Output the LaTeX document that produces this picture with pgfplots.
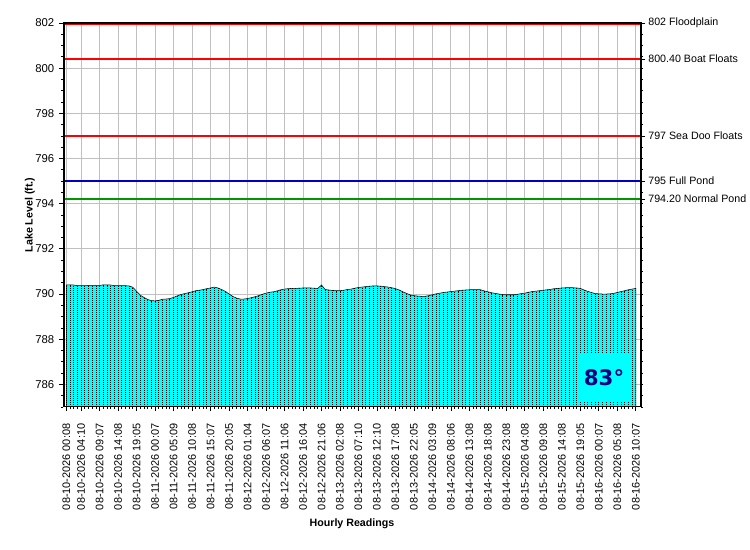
\documentclass[border=0pt]{standalone}
\usepackage{pgfplots}
\pgfplotsset{compat=1.18}
\usepackage{pgfplotstable}
\usepackage{fontspec}
\setmainfont{Liberation Sans}
\newfontfamily\dejavu{DejaVu Sans}
\definecolor{navyc}{RGB}{0,0,128}
\definecolor{navyl}{RGB}{0,0,190}
\definecolor{pondgreen}{RGB}{0,150,0}
\definecolor{gridc}{RGB}{192,192,192}
\definecolor{aqua}{RGB}{0,255,255}
\definecolor{redc}{RGB}{255,0,0}

\pgfplotstableread{
x y
0 790.40
1 790.41
2 790.40
3 790.37
4 790.37
5 790.37
6 790.38
7 790.38
8 790.39
9 790.38
10 790.41
11 790.41
12 790.40
13 790.37
14 790.37
15 790.37
16 790.37
17 790.36
18 790.30
19 790.12
20 789.95
21 789.85
22 789.76
23 789.71
24 789.70
25 789.72
26 789.77
27 789.78
28 789.80
29 789.85
30 789.92
31 789.98
32 790.02
33 790.06
34 790.10
35 790.15
36 790.17
37 790.20
38 790.24
39 790.27
40 790.31
41 790.27
42 790.20
43 790.12
44 790.00
45 789.90
46 789.82
47 789.78
48 789.78
49 789.80
50 789.84
51 789.88
52 789.93
53 789.99
54 790.04
55 790.08
56 790.10
57 790.14
58 790.19
59 790.22
60 790.24
61 790.25
62 790.25
63 790.26
64 790.27
65 790.27
66 790.27
67 790.26
68 790.25
69 790.40
70 790.20
71 790.18
72 790.16
73 790.15
74 790.15
75 790.17
76 790.20
77 790.22
78 790.26
79 790.29
80 790.31
81 790.33
82 790.35
83 790.36
84 790.36
85 790.35
86 790.33
87 790.31
88 790.28
89 790.24
90 790.18
91 790.10
92 790.03
93 789.96
94 789.93
95 789.91
96 789.90
97 789.90
98 789.93
99 789.97
100 790.01
101 790.04
102 790.07
103 790.09
104 790.11
105 790.13
106 790.15
107 790.17
108 790.18
109 790.19
110 790.20
111 790.20
112 790.19
113 790.14
114 790.10
115 790.06
116 790.03
117 790.00
118 789.98
119 789.97
120 789.97
121 789.97
122 789.99
123 790.02
124 790.04
125 790.08
126 790.11
127 790.13
128 790.15
129 790.17
130 790.19
131 790.21
132 790.24
133 790.25
134 790.27
135 790.28
136 790.28
137 790.28
138 790.27
139 790.25
140 790.18
141 790.12
142 790.07
143 790.02
144 790.01
145 790.00
146 790.00
147 790.01
148 790.03
149 790.07
150 790.11
151 790.15
152 790.19
153 790.22
154 790.25
}\levels

\begin{document}
\begin{tikzpicture}
\useasboundingbox (0,0) rectangle (562.5pt,412.5pt);
\begin{axis}[
  at={(47.25pt,107.25pt)}, anchor=south west,
  scale only axis, width=433.5pt, height=288pt,
  xmin=-0.9, xmax=155.4, ymin=785, ymax=802,
  xtick={0,4,9,14,19,24,29,34,39,44,49,54,59,64,69,74,79,84,89,94,99,104,109,114,119,124,129,134,139,144,149,154},
  xticklabels={08-10-2026 00:08,08-10-2026 04:10,08-10-2026 09:07,08-10-2026 14:08,08-10-2026 19:05,
    08-11-2026 00:07,08-11-2026 05:09,08-11-2026 10:08,08-11-2026 15:07,08-11-2026 20:05,
    08-12-2026 01:04,08-12-2026 06:07,08-12-2026 11:06,08-12-2026 16:04,08-12-2026 21:06,
    08-13-2026 02:08,08-13-2026 07:10,08-13-2026 12:10,08-13-2026 17:08,08-13-2026 22:05,
    08-14-2026 03:09,08-14-2026 08:06,08-14-2026 13:08,08-14-2026 18:08,08-14-2026 23:08,
    08-15-2026 04:08,08-15-2026 09:08,08-15-2026 14:08,08-15-2026 19:05,
    08-16-2026 00:07,08-16-2026 05:08,08-16-2026 10:07},
  minor xtick={0,1,...,154},
  ytick={786,788,790,792,794,796,798,800,802},
  minor ytick={785,785.5,...,802},
  tick pos=left, tick align=outside,
  major tick length=3pt, minor tick length=1.5pt,
  every tick/.style={black, line width=0.6pt},
  xmajorgrids, ymajorgrids,
  major grid style={gridc, line width=0.75pt},
  /pgf/number format/assume math mode=true,
  yticklabel style={font=\fontsize{8.5}{10}\selectfont, /pgf/number format/fixed},
  xticklabel style={yshift=-6pt, rotate=90, anchor=east, font=\fontsize{8.2}{9}\selectfont},
  xlabel={Hourly Readings},
  ylabel={Lake Level (ft.)},
  xlabel style={font=\bfseries\fontsize{8}{9}\selectfont, yshift=0pt},
  ylabel style={font=\bfseries\fontsize{8}{9}\selectfont, yshift=-6.5pt},
  axis line style={line width=0.75pt},
  clip=true,
]
\addplot[fill=aqua, draw=black, line width=0.4pt] table {\levels} \closedcycle;
\addplot[ycomb, black, line width=0.6pt, dash pattern=on 0.75pt off 0.75pt, mark=none] table {\levels};
\addplot[redc, line width=1.5pt] coordinates {(-0.9,801.955) (155.4,801.955)};
\addplot[redc, line width=1.5pt] coordinates {(-0.9,800.4) (155.4,800.4)};
\addplot[redc, line width=1.5pt] coordinates {(-0.9,797) (155.4,797)};
\addplot[navyl, line width=1pt] coordinates {(-0.9,795) (155.4,795)};
\addplot[color=pondgreen, line width=1.1pt] coordinates {(-0.9,794.2) (155.4,794.2)};
\node[fill=aqua, inner sep=0pt, minimum width=39pt, minimum height=36pt, text=navyc, font=\dejavu\bfseries\fontsize{16}{18}\selectfont] at (rel axis cs:0.936,0.077) {83°};
\draw[black, line width=0.6pt] (rel axis cs:0,1) -- (rel axis cs:1,1);
\draw[black, line width=1.5pt] (rel axis cs:0,0) -- (rel axis cs:1,0);
\draw[black, line width=2.25pt] (rel axis cs:0,0) -- (rel axis cs:0,1);
\end{axis}
\begin{axis}[
  at={(47.25pt,107.25pt)}, anchor=south west,
  scale only axis, width=433.5pt, height=288pt,
  xmin=-0.9, xmax=155.4, ymin=785, ymax=802,
  axis x line=none, axis y line*=right,
  axis line style={-, line width=1.5pt},
  ytick={794.2,795,797,800.4,802},
  yticklabels={794.20 Normal Pond,795 Full Pond,797 Sea Doo Floats,800.40 Boat Floats,802 Floodplain},
  minor ytick={785,785.5,...,802},
  tick align=outside,
  major tick length=3pt, minor tick length=1.5pt,
  every tick/.style={black, line width=0.6pt},
  yticklabel style={font=\fontsize{8}{9}\selectfont, anchor=west, xshift=-1pt},
]
\addplot[draw=none] coordinates {(0,790)};
\end{axis}
\end{tikzpicture}
\end{document}
